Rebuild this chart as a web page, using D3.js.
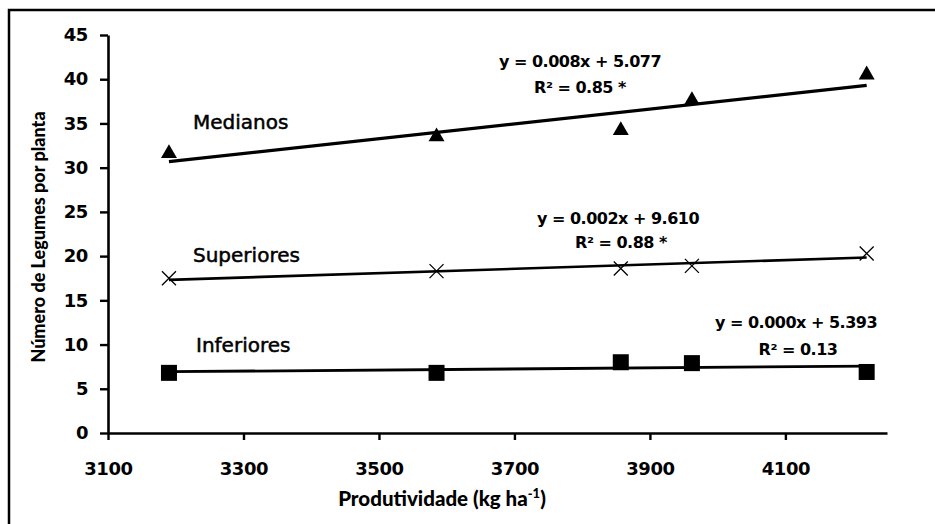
<!DOCTYPE html>
<html>
<head>
<meta charset="utf-8">
<script src="https://cdn.jsdelivr.net/npm/d3@7"></script>
<style>
  body { margin: 0; background: #fff; }
  svg { display: block; }
</style>
</head>
<body>
<svg width="935" height="524"></svg>
<script>
// dados
var produtividade = [3190, 3585, 3857, 3962, 4220]
var medianos = [31.6, 33.5, 34.2, 37.6, 40.5]
var superiores = [17.5, 18.3, 18.6, 18.9, 20.3]
var inferiores = [6.8, 6.8, 8.0, 7.9, 6.9]
var xTicks = [3100, 3300, 3500, 3700, 3900, 4100]
var yTicks = [0, 5, 10, 15, 20, 25, 30, 35, 40, 45]
var nomes = ['Medianos', 'Superiores', 'Inferiores']
var equacoes = [
  ['y = 0.008x + 5.077', 'R² = 0.85 *'],
  ['y = 0.002x + 9.610', 'R² = 0.88 *'],
  ['y = 0.000x + 5.393', 'R² = 0.13']
]

var svg = d3.select('svg')
var numFont = '"DejaVu Sans", sans-serif'
var titleFont = 'Lato, sans-serif'

// moldura (cortada a direita e em baixo)
svg.append('path')
   .attr('d', 'M9,524 L9,10 L935,10')
   .attr('fill', 'none')
   .attr('stroke', '#000')
   .attr('stroke-width', 2.5)

var x = d3.scaleLinear().domain([3100, 4250]).range([108, 887])
var y = d3.scaleLinear().domain([0, 45]).range([433, 35])

svg.append('g')
   .attr('transform', 'translate(0,' + y(0) + ')')
   .call(d3.axisBottom(x).tickValues(xTicks).tickSize(7).tickSizeOuter(0).tickPadding(22).tickFormat(d3.format('d')))
svg.append('g')
   .attr('transform', 'translate(' + x(3100) + ',0)')
   .call(d3.axisLeft(y).tickValues(yTicks).tickSize(8).tickSizeOuter(0).tickPadding(12))

svg.selectAll('.domain').attr('stroke', '#000').attr('stroke-width', 2.6)
svg.selectAll('.tick line').attr('stroke', '#000').attr('stroke-width', 2.4)
svg.selectAll('.tick text')
   .attr('fill', '#000')
   .style('font-family', numFont)
   .style('font-weight', 'bold')
   .style('font-size', '18px')
   .style('letter-spacing', '-0.4px')

// titulos dos eixos
var xt = svg.append('text')
   .attr('x', 442).attr('y', 506)
   .attr('text-anchor', 'middle')
   .style('font-family', titleFont).style('font-weight', '900').style('font-size', '20.5px')
   .text('Produtividade (kg ha')
xt.append('tspan').attr('baseline-shift', 'super').style('font-size', '13px').text('-1')
xt.append('tspan').text(')')

svg.append('text')
   .attr('transform', 'translate(45,237) rotate(-90)')
   .attr('text-anchor', 'middle')
   .style('font-family', titleFont).style('font-weight', '900').style('font-size', '18px')
   .text('Número de Legumes por planta')

// regressao linear (linha de tendencia)
function tendencia(vals) {
  var mx = d3.mean(produtividade), my = d3.mean(vals)
  var sxy = d3.sum(produtividade, function(d, i) { return (d - mx) * (vals[i] - my) })
  var sxx = d3.sum(produtividade, function(d) { return (d - mx) * (d - mx) })
  var b = sxy / sxx, a = my - b * mx
  var ext = d3.extent(produtividade)
  return ext.map(function(v) { return [v, a + b * v] })
}

var linha = d3.line().x(function(d) { return x(d[0]) }).y(function(d) { return y(d[1]) })
var series = [medianos, superiores, inferiores]
var larguras = [3.2, 2.6, 2.8]

series.forEach(function(s, k) {
  svg.append('path')
     .attr('d', linha(tendencia(s)))
     .attr('fill', 'none')
     .attr('stroke', '#000')
     .attr('stroke-width', larguras[k])
})

// marcadores
svg.selectAll('.tri')
   .data(medianos)
   .enter()
   .append('path')
   .attr('d', d3.symbol().type(d3.symbolTriangle).size(110))
   .attr('transform', function(d, i) { return 'translate(' + x(produtividade[i]) + ',' + y(d) + ')' })
   .attr('fill', '#000')

svg.selectAll('.cruz')
   .data(superiores)
   .enter()
   .append('path')
   .attr('d', 'M-7,-7L7,7M-7,7L7,-7')
   .attr('transform', function(d, i) { return 'translate(' + x(produtividade[i]) + ',' + y(d) + ')' })
   .attr('stroke', '#000')
   .attr('stroke-width', 1.3)

svg.selectAll('.quad')
   .data(inferiores)
   .enter()
   .append('rect')
   .attr('x', function(d, i) { return x(produtividade[i]) - 8 })
   .attr('y', function(d) { return y(d) - 8 })
   .attr('width', 16)
   .attr('height', 16)
   .attr('fill', '#000')

// nomes das series
var posNomes = [[193, 129], [193, 262], [196, 352]]
nomes.forEach(function(n, k) {
  svg.append('text')
     .attr('x', posNomes[k][0]).attr('y', posNomes[k][1])
     .attr('stroke', '#000').attr('stroke-width', 0.5)
     .style('font-family', numFont).style('font-size', '20px')
     .text(n)
})

// equacoes
var posEq = [[580, 67, 580, 93], [618, 224, 621, 248], [796, 328, 798, 355]]
equacoes.forEach(function(e, k) {
  var p = posEq[k]
  svg.append('text').attr('x', p[0]).attr('y', p[1]).attr('text-anchor', 'middle')
     .style('font-family', numFont).style('font-weight', 'bold').style('font-size', '16px')
     .style('letter-spacing', '-0.5px')
     .text(e[0])
  svg.append('text').attr('x', p[2]).attr('y', p[3]).attr('text-anchor', 'middle')
     .style('font-family', numFont).style('font-weight', 'bold').style('font-size', '16px')
     .style('letter-spacing', '-0.5px')
     .text(e[1])
})
</script>
</body>
</html>
